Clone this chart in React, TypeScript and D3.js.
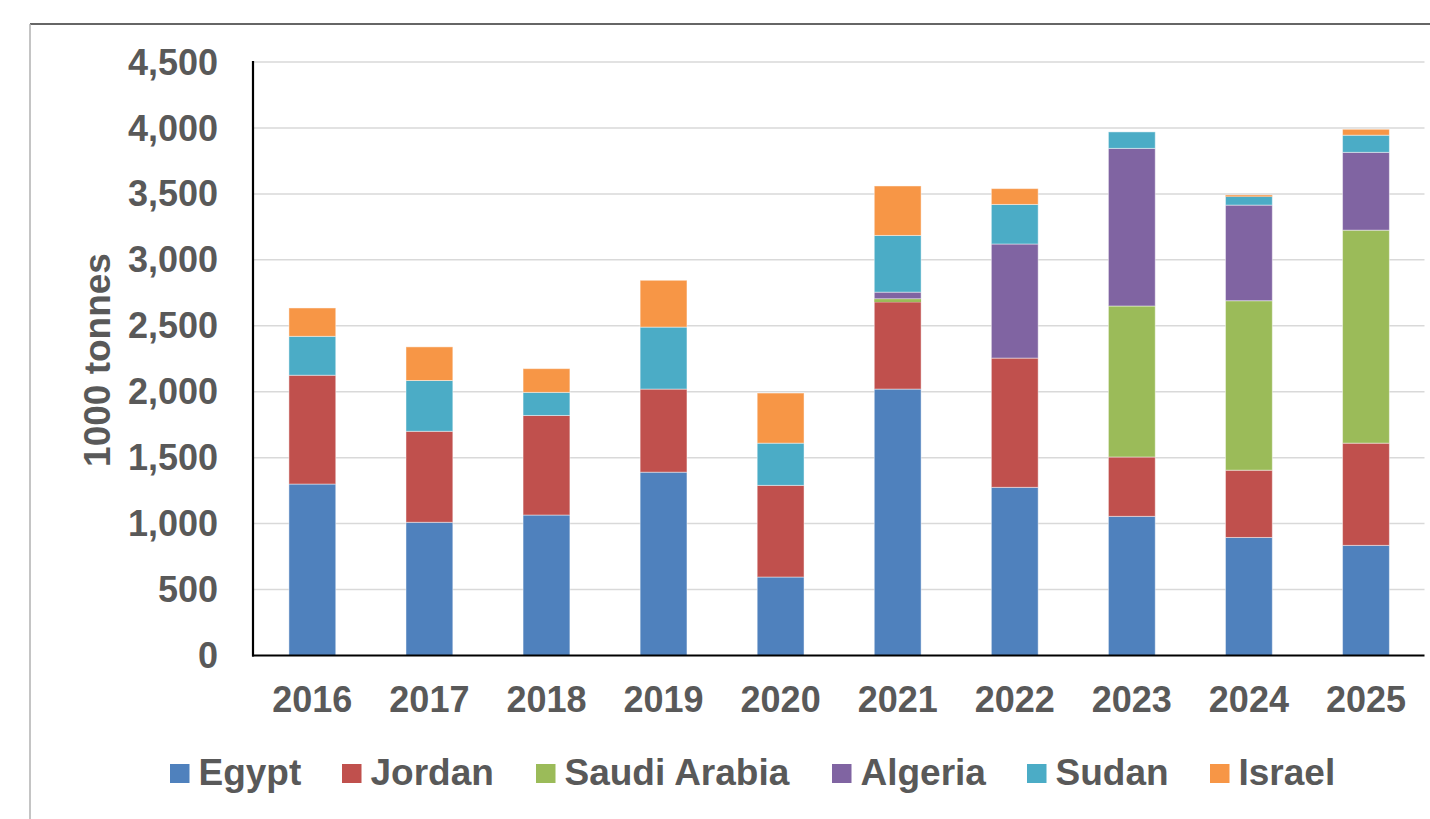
import React from 'react';
import * as d3 from 'd3';

// chart data
const years = ['2016', '2017', '2018', '2019', '2020', '2021', '2022', '2023', '2024', '2025'];
const countries = ['Egypt', 'Jordan', 'Saudi Arabia', 'Algeria', 'Sudan', 'Israel'];
const egypt = [1300, 1010, 1065, 1390, 595, 2020, 1275, 1055, 895, 835];
const jordan = [825, 690, 755, 630, 695, 660, 980, 450, 510, 775];
const saudiArabia = [0, 0, 0, 0, 0, 25, 0, 1145, 1285, 1615];
const algeria = [0, 0, 0, 0, 0, 50, 865, 1195, 725, 590];
const sudan = [295, 385, 175, 470, 320, 430, 300, 125, 65, 130];
const israel = [215, 255, 180, 355, 380, 375, 120, 0, 10, 45];
const yTicks = [0, 500, 1000, 1500, 2000, 2500, 3000, 3500, 4000, 4500];
const colors = ['#4F81BD', '#C0504D', '#9BBB59', '#8064A2', '#4BACC6', '#F79646'];

const W = 1430;
const H = 819;
const FONT = '"Liberation Sans", Arial, sans-serif';
const TEXT = '#595959';

export default function App() {
  const series = [egypt, jordan, saudiArabia, algeria, sudan, israel];
  const rows = years.map((y, i) => {
    const r: Record<string, any> = { year: y };
    countries.forEach((c, k) => { r[c] = series[k][i]; });
    return r;
  });
  const stacked = d3.stack<any>().keys(countries)(rows);

  const x = d3.scaleBand()
    .domain(years)
    .range([253.8, 1424.5])
    .paddingInner(0.6)
    .paddingOuter(0.3);
  const y = d3.scaleLinear().domain([0, 4500]).range([655.5, 62]);
  const color = d3.scaleOrdinal<string>().domain(countries).range(colors);

  // legend positions (marker left edges)
  const legendX = [170, 342, 536, 832, 1027, 1210];

  return (
    <svg width={W} height={H} style={{ position: 'absolute', left: 0, top: 0, background: '#fff' }}>
      {/* outer frame */}
      <line x1={30} y1={24} x2={W} y2={24} stroke="#333" strokeWidth={1.5} />
      <line x1={30} y1={24} x2={30} y2={H} stroke="#b0b0b0" strokeWidth={1.5} />

      {/* gridlines */}
      {yTicks.filter(t => t > 0).map(t => (
        <line key={t} x1={254} x2={1424.5} y1={y(t)} y2={y(t)} stroke="#d9d9d9" strokeWidth={1.5} />
      ))}

      {/* bars */}
      {stacked.map(layer => (
        <g key={layer.key} fill={color(layer.key)}>
          {layer.map((d, i) => {
            const h = y(d[0]) - y(d[1]);
            if (h <= 0) return null;
            return (
              <rect key={i} x={x(years[i])} y={y(d[1])} width={x.bandwidth()} height={h}
                stroke="#fff" strokeOpacity={h > 4 ? 0.45 : 0} strokeWidth={1} />
            );
          })}
        </g>
      ))}

      {/* axes */}
      <line x1={253} x2={253} y1={61} y2={656.5} stroke="#000" strokeWidth={2.2} />
      <line x1={252} x2={1424.5} y1={655.5} y2={655.5} stroke="#000" strokeWidth={2.2} />

      {yTicks.map(t => (
        <text key={t} x={218} y={y(t)} dy="0.35em" textAnchor="end" fontFamily={FONT}
          fontWeight="bold" fontSize={36} fill={TEXT}>{d3.format(',')(t)}</text>
      ))}

      {years.map(yr => (
        <text key={yr} x={(x(yr) || 0) + x.bandwidth() / 2} y={712} textAnchor="middle"
          fontFamily={FONT} fontWeight="bold" fontSize={36} fill={TEXT}>{yr}</text>
      ))}

      <text transform="translate(110,360) rotate(-90)" textAnchor="middle" fontFamily={FONT}
        fontWeight="bold" fontSize={37} fill={TEXT}>1000 tonnes</text>

      {/* legend */}
      {countries.map((c, i) => (
        <g key={c} transform={`translate(${legendX[i]},0)`}>
          <rect x={0} y={764} width={19.5} height={19} fill={color(c)} />
          <text x={28.5} y={785} fontFamily={FONT} fontWeight="bold" fontSize={37} fill={TEXT}>{c}</text>
        </g>
      ))}
    </svg>
  );
}
